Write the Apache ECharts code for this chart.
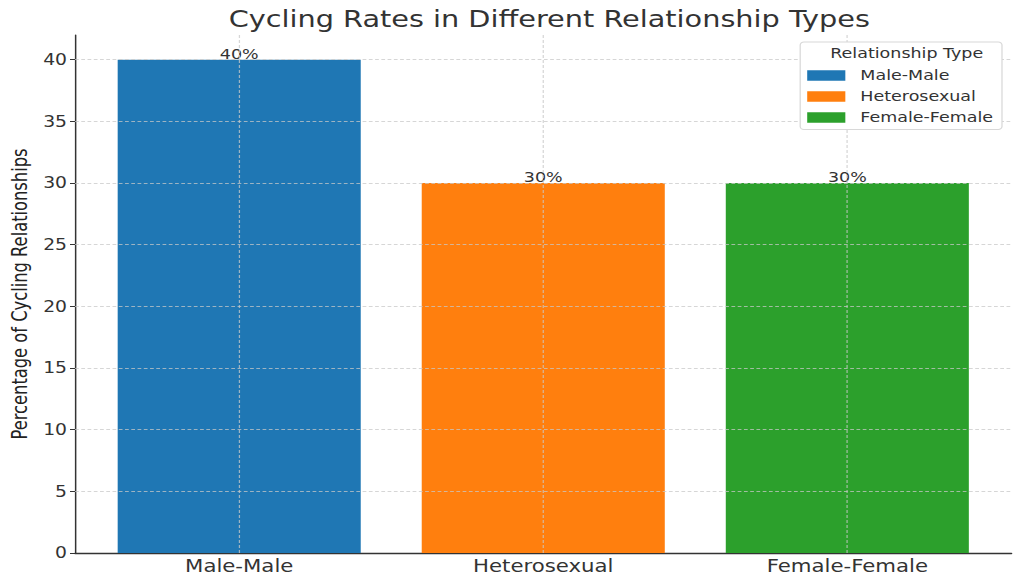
<!DOCTYPE html>
<html>
<head>
<meta charset="utf-8">
<script src="https://cdn.jsdelivr.net/npm/echarts@6/dist/echarts.min.js"></script>
<style>
html,body{margin:0;padding:0;background:#fff;overflow:hidden;width:1024px;height:585px}
#c{width:819px;height:585px;transform:scaleX(1.25031);transform-origin:0 0}
</style>
</head>
<body>
<div id="c"></div>
<script>
const categories = ['Male-Male', 'Heterosexual', 'Female-Female'];
const values = [40, 30, 30];
const colors = ['#1f77b4', '#ff7f0e', '#2ca02c'];
const yTicks = [5, 10, 15, 20, 25, 30, 35, 40];
const categoryIndex = [0, 1, 2];

const FONT = 'DejaVu Sans';
const gridLine = { color: 'rgba(200,200,200,0.75)', type: [3, 2], width: 1 };

const markLines = categoryIndex.map(i => ({ xAxis: i }))
  .concat(yTicks.map(v => ({ yAxis: v })));

const series = categories.map((name, i) => ({
  name: name,
  type: 'bar',
  stack: 'all',
  barWidth: 194.4,
  itemStyle: { color: colors[i] },
  data: [[categoryIndex[i], values[i]]],
  label: {
    show: true, position: 'top', distance: -1,
    formatter: p => p.value[1] + '%',
    fontFamily: FONT, fontSize: 14, color: '#333'
  },
  markLine: i === 0 ? {
    silent: true, symbol: 'none', z: 5,
    label: { show: false },
    lineStyle: gridLine,
    data: markLines
  } : undefined
}));

const chart = echarts.init(document.getElementById('c'), null, { renderer: 'svg' });
chart.setOption({
  animation: false,
  textStyle: { fontFamily: FONT },
  title: [{
    text: 'Cycling Rates in Different Relationship Types',
    left: 434.3, top: 3, textAlign: 'center',
    textStyle: { fontFamily: FONT, fontSize: 23, fontWeight: 'normal', color: '#333' }
  }, {
    text: 'Relationship Type',
    left: 720.2, top: 41, textAlign: 'center', z: 12,
    textStyle: { fontFamily: FONT, fontSize: 14, fontWeight: 'normal', color: '#333' }
  }],
  legend: {
    orient: 'vertical',
    left: 640, top: 42, z: 10,
    padding: [26.5, 7, 5, 5.6],
    itemWidth: 30.5, itemHeight: 10.5, itemGap: 7,
    icon: 'rect',
    backgroundColor: '#fff',
    borderColor: '#d8d8d8', borderWidth: 1, borderRadius: 3,
    textStyle: { fontFamily: FONT, fontSize: 14, color: '#333', padding: [0, 0, 0, 7] },
    data: categories
  },
  grid: { left: 60, right: 10, top: 35, bottom: 32, containLabel: false, outerBoundsMode: 'none' },
  xAxis: {
    type: 'value', min: -0.54, max: 2.54,
    axisLine: { show: true, onZero: false, lineStyle: { color: '#333', width: 1.3 } },
    axisTick: { show: true, customValues: categoryIndex, length: 4, inside: true, lineStyle: { color: '#333' } },
    axisLabel: {
      customValues: categoryIndex,
      formatter: v => categories[Math.round(v)],
      fontFamily: FONT, fontSize: 17, color: '#333', margin: 5
    },
    splitLine: { show: false }
  },
  yAxis: {
    type: 'value', min: 0, max: 42, interval: 5,
    name: 'Percentage of Cycling Relationships',
    nameLocation: 'middle', nameGap: 33,
    nameTextStyle: { fontFamily: FONT, fontSize: 16.3, color: '#222' },
    axisLine: { show: true, onZero: false, lineStyle: { color: '#333', width: 1.2 } },
    axisTick: { show: true, length: 4, lineStyle: { color: '#333' } },
    axisLabel: { fontFamily: FONT, fontSize: 15, color: '#333', margin: 6.4, showMaxLabel: false },
    splitLine: { show: false }
  },
  series: series
});
</script>
</body>
</html>
